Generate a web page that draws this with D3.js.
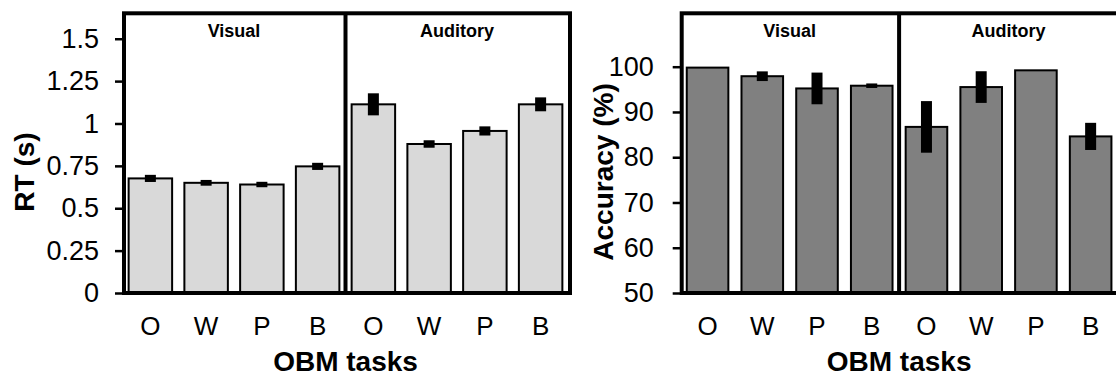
<html>
<head>
<script src="https://d3js.org/d3.v7.min.js"></script>
<style>
  body { margin: 0; background: #fff; }
  svg { display: block; font-family: "Liberation Sans", Arial, sans-serif; }
</style>
</head>
<body>
<svg width="1116" height="378"></svg>
<script>
// task labels and modality groups
const tasks = ["O", "W", "P", "B", "O", "W", "P", "B"];
const groups = ["Visual", "Auditory"];

// reaction time (s), mean and error
const rtMean = [0.676, 0.650, 0.640, 0.747, 1.113, 0.879, 0.956, 1.113];
const rtErr  = [0.021, 0.017, 0.016, 0.021, 0.065, 0.022, 0.027, 0.041];
const rtTicks = [0, 0.25, 0.5, 0.75, 1, 1.25, 1.5];

// accuracy (%), mean and error
const accMean = [99.8, 97.9, 95.2, 95.8, 86.7, 95.5, 99.2, 84.6];
const accErr  = [0, 1.07, 3.5, 0.5, 5.7, 3.5, 0, 3.0];
const accTicks = [50, 60, 70, 80, 90, 100];

const svg = d3.select("svg");

function panel(opt) {
  const idx = d3.range(tasks.length);
  const x = d3.scaleBand().domain(idx).range([opt.x0, opt.x1]).paddingInner(opt.pad).paddingOuter(opt.pad / 2);
  const y = d3.scaleLinear().domain(opt.domain).range([293, 13.3]);
  const g = svg.append("g");

  // bars
  g.selectAll("rect.bar").data(idx).enter().append("rect")
    .attr("x", i => x(i))
    .attr("width", x.bandwidth())
    .attr("y", i => y(opt.mean[i]))
    .attr("height", i => y(opt.domain[0]) - y(opt.mean[i]))
    .style("fill", opt.fill)
    .style("stroke", "#000")
    .style("stroke-width", 2);

  // error bars (thick black)
  g.selectAll("rect.err").data(idx.filter(i => opt.err[i] > 0)).enter().append("rect")
    .attr("x", i => x(i) + x.bandwidth() / 2 - 5.5)
    .attr("width", 11)
    .attr("y", i => y(opt.mean[i] + opt.err[i]))
    .attr("height", i => y(opt.mean[i] - opt.err[i]) - y(opt.mean[i] + opt.err[i]))
    .style("fill", "#000");

  // frame + divider
  const mid = x(4) - x.step() * x.paddingInner() / 2;
  g.append("rect")
    .attr("x", opt.x0 + 1.5).attr("y", 13.3)
    .attr("width", opt.x1 - opt.x0).attr("height", 293 - 13.3)
    .style("fill", "none").style("stroke", "#000").style("stroke-width", 4);
  g.append("line")
    .attr("x1", mid).attr("x2", mid).attr("y1", 13.3).attr("y2", 293)
    .style("stroke", "#000").style("stroke-width", 4);

  // group labels
  g.selectAll("text.grp").data(groups).enter().append("text")
    .attr("x", (d, k) => k === 0 ? (opt.x0 + mid) / 2 : (mid + opt.x1) / 2)
    .attr("y", 36.7)
    .attr("text-anchor", "middle")
    .style("font-size", "18px").style("font-weight", "bold")
    .text(d => d);

  // y axis
  const ya = g.append("g")
    .attr("transform", "translate(" + (opt.x0 + 1.5) + ",0)")
    .call(d3.axisLeft(y).tickValues(opt.ticks).tickSize(9).tickPadding(opt.tpad).tickFormat(opt.fmt));
  ya.select(".domain").remove();
  ya.selectAll("line").style("stroke", "#000").style("stroke-width", 2.5);
  ya.selectAll("text").style("font-size", "27px").style("fill", "#000").attr("font-family", null);

  // x axis
  const xa = g.append("g")
    .attr("transform", "translate(0,293)")
    .call(d3.axisBottom(x).tickSize(0).tickPadding(23.5).tickFormat(i => tasks[i]));
  xa.select(".domain").remove();
  xa.selectAll("text").style("font-size", "26px").style("fill", "#000").attr("font-family", null);

  // titles
  g.append("text")
    .attr("x", (opt.x0 + opt.x1) / 2).attr("y", 371)
    .attr("text-anchor", "middle")
    .style("font-size", "28px").style("font-weight", "bold")
    .text("OBM tasks");
  g.append("text")
    .attr("transform", "translate(" + opt.titleX + ",172) rotate(-90)")
    .attr("text-anchor", "middle")
    .style("font-size", "28px").style("font-weight", "bold")
    .text(opt.title);
}

panel({ x0: 122.5, x1: 568.5, pad: 0.22, domain: [0, 1.65], mean: rtMean, err: rtErr,
        ticks: rtTicks, fmt: d3.format(""), tpad: 16, fill: "#d9d9d9", title: "RT (s)", titleX: 33.5 });
panel({ x0: 680.2, x1: 1118, pad: 0.24, domain: [50, 111.8], mean: accMean, err: accErr,
        ticks: accTicks, fmt: d3.format("d"), tpad: 19, fill: "#808080", title: "Accuracy (%)", titleX: 613 });
</script>
</body>
</html>
